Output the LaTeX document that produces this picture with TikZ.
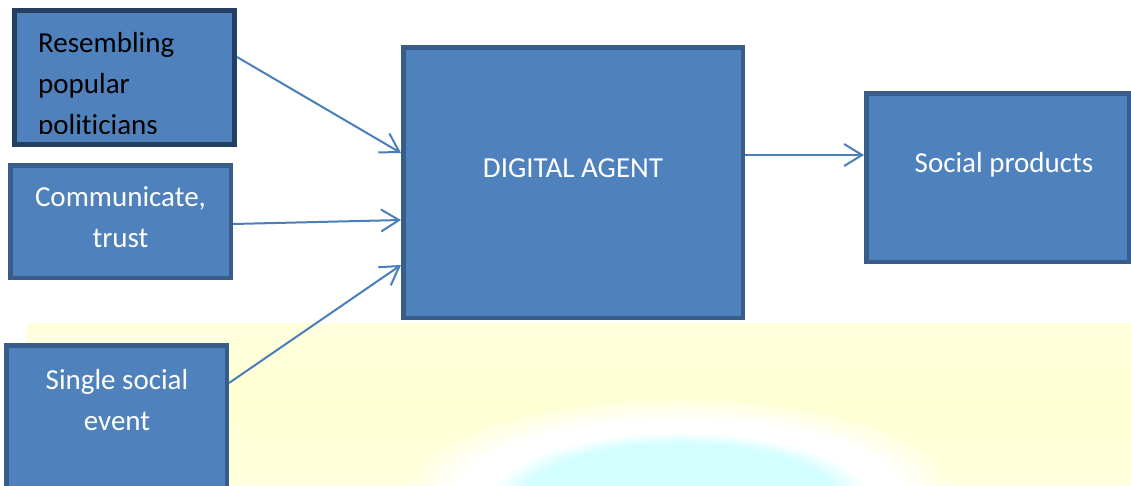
\documentclass[tikz,border=0pt]{standalone}
\usepackage{fontspec}
\setmainfont{Carlito}[Ligatures=NoCommon]
\usetikzlibrary{arrows.meta}

\definecolor{boxfill}{HTML}{4F81BD}
\definecolor{boxline}{HTML}{385D8A}
\definecolor{darkline}{HTML}{243F60}
\definecolor{arrowblue}{HTML}{4A7EBB}
\definecolor{bgyellow}{HTML}{FFFFDE}
\definecolor{midyellow}{HTML}{FFFFD4}
\definecolor{glowcyan}{HTML}{D2FEFF}

\pgfdeclareradialshading{glow}{\pgfpoint{0bp}{0bp}}{color(0bp)=(glowcyan); color(14bp)=(glowcyan); color(17bp)=(white); color(20bp)=(white); color(25bp)=(bgyellow); color(50bp)=(bgyellow)}

\begin{document}
\begin{tikzpicture}[x=1pt, y=1pt,
	>={Straight Barb[length=18pt,width=22pt]},
	box/.style={draw=boxline, fill=boxfill, line width=4.5pt, rectangle},
	arr/.style={->, draw=arrowblue, line width=2pt},
	txt/.style={inner sep=0pt, font=\fontsize{29}{41}\selectfont}]

	\clip (0,0) rectangle (1131,-485);

	% === BACKGROUND === (((
	\shade[top color=bgyellow, bottom color=bgyellow, middle color=midyellow] (27,-323) rectangle (1131,-485);
	\shade[shading=glow] (680,-500) ellipse (280 and 100);
	% )))

	% === BOXES === (((
	\node[box, draw=darkline, line width=5pt, minimum width=220pt, minimum height=134pt] (res) at (124.5,-77.5) {};
	\node[box, minimum width=220.5pt, minimum height=112.5pt] (comm) at (120.5,-221.5) {};
	\node[box, minimum width=220.5pt, minimum height=152.5pt] (single) at (116.5,-421.5) {};
	\node[box, minimum width=339.5pt, minimum height=270.5pt] (agent) at (573,-182.5) {};
	\node[box, minimum width=262.5pt, minimum height=168.5pt] (social) at (997.5,-177.5) {};
	% )))

	% === TEXTS === (((
	\begin{scope}
		\clip (14,-10) rectangle (235,-133);
		\node[txt, anchor=north west, align=left] (restext) at (38,-32) {Resembling\\popular\\politicians};
	\end{scope}
	\node[txt, white, anchor=north, align=center] (commtext) at (120.5,-186) {Communicate,\\trust};
	\node[txt, white, anchor=north, align=center] (singletext) at (117,-369) {Single social\\event};
	\node[txt, white, anchor=base] (agenttext) at (573,-177) {DIGITAL AGENT};
	\node[txt, white, anchor=base] (socialtext) at (1004,-172) {Social products};
	% )))

	% === ARROWS === (((
	\draw[arr] ([yshift=20.5pt]res.east) -- ([yshift=29.5pt]agent.west);
	\draw[arr] ([yshift=-2.5pt]comm.east) -- ([yshift=-37.5pt]agent.west);
	\draw[arr] ([yshift=38.5pt]single.east) -- ([yshift=-82.5pt]agent.west);
	\draw[arr] ([yshift=27.5pt]agent.east) -- ([yshift=22.5pt]social.west);
	% )))

\end{tikzpicture}
\end{document}
